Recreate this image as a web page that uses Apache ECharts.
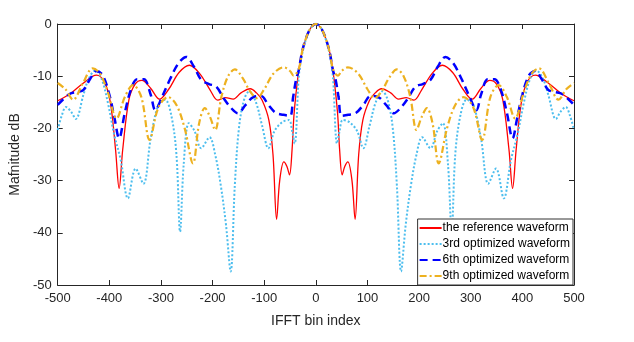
<!DOCTYPE html>
<html>
<head>
<meta charset="utf-8">
<script src="https://cdn.jsdelivr.net/npm/echarts@6/dist/echarts.min.js"></script>
<style>
  html, body { margin: 0; padding: 0; background: #fff; }
  #main { width: 634px; height: 342px; }
</style>
</head>
<body>
<div id="main"></div>
<script>
// IFFT bin index / magnitude in dB
var refX = [-500, -475, -450, -425, -410, -398, -388, -381, -374, -362, -350, -337, -320, -303, -285, -265, -245, -225, -205, -190, -175, -160, -145, -127, -115, -104, -91, -83, -76, -70, -62, -56, -51, -46, -42, -33, -27, -20, -12, -5, 0,
            5, 12, 20, 27, 33, 42, 46, 51, 56, 62, 70, 76, 83, 91, 104, 115, 127, 145, 160, 175, 190, 205, 225, 245, 265, 285, 303, 320, 337, 350, 362, 374, 381, 388, 398, 410, 425, 450, 475, 500];
var refY = [-14.7, -13.3, -11.3, -9.8, -11.0, -15.0, -24.0, -31.5, -24.0, -14.5, -11.5, -10.8, -12.3, -14.4, -12.5, -9.3, -7.9, -9.5, -12.6, -14.6, -14.1, -14.4, -13.2, -12.4, -13.2, -14.6, -18.4, -25.0, -37.4, -30.0, -26.4, -27.3, -28.9, -24.0, -17.0, -8.8, -5.5, -3.0, -1.1, -0.2, 0,
            -0.2, -1.1, -3.0, -5.5, -8.8, -17.0, -24.0, -28.9, -27.3, -26.4, -30.0, -37.4, -25.0, -18.4, -14.6, -13.2, -12.4, -13.2, -14.4, -14.1, -14.6, -12.6, -9.5, -7.9, -9.3, -12.5, -14.4, -12.3, -10.8, -11.5, -14.5, -24.0, -31.5, -24.0, -15.0, -11.0, -9.8, -11.3, -13.3, -14.7];

var opt3X = [-500, -492, -484, -474, -465, -450, -440, -427, -415, -403, -391, -378, -364, -349, -334, -320, -305, -292, -280, -270, -263, -256, -246, -235, -222, -206, -195, -184, -174, -165, -157, -149, -139, -129, -116, -104, -92, -80, -65, -52, -46, -41, -33, -27, -20, -12, -5, 0,
            5, 12, 20, 27, 33, 41, 46, 52, 65, 80, 92, 104, 116, 129, 139, 149, 157, 165, 174, 184, 195, 206, 222, 235, 246, 256, 263, 270, 280, 292, 305, 320, 334, 349, 364, 378, 391, 403, 415, 427, 440, 450, 465, 474, 484, 492, 500];
var opt3Y = [-20.3, -17.5, -15.9, -16.8, -18.2, -13.5, -10.5, -8.9, -10.5, -15.0, -21.0, -26.0, -33.4, -27.7, -30.6, -22.0, -15.5, -14.5, -17.5, -25.0, -39.8, -27.0, -19.0, -20.5, -23.8, -21.7, -25.0, -31.0, -38.5, -47.4, -31.0, -20.0, -14.5, -12.9, -15.0, -19.5, -23.8, -20.5, -18.8, -18.4, -20.5, -22.9, -10.0, -6.0, -3.2, -1.1, -0.2, 0,
            -0.2, -1.1, -3.2, -6.0, -10.0, -22.9, -20.5, -18.4, -18.8, -20.5, -23.8, -19.5, -15.0, -12.9, -14.5, -20.0, -31.0, -47.4, -38.5, -31.0, -25.0, -21.7, -23.8, -20.5, -19.0, -27.0, -39.8, -25.0, -17.5, -14.5, -15.5, -22.0, -30.6, -27.7, -33.4, -26.0, -21.0, -15.0, -10.5, -8.9, -10.5, -13.5, -18.2, -16.8, -15.9, -17.5, -20.3];

var opt6X = [-500, -477, -462, -450, -437, -425, -413, -400, -390, -381, -370, -358, -346, -333, -320, -311, -298, -282, -266, -251, -236, -222, -207, -193, -178, -164, -151, -136, -121, -106, -92, -78, -63, -50, -44, -38, -33, -27, -20, -12, -5, 0,
            5, 12, 20, 27, 33, 38, 44, 50, 63, 78, 92, 106, 121, 136, 151, 164, 178, 193, 207, 222, 236, 251, 266, 282, 298, 311, 320, 333, 346, 358, 370, 381, 390, 400, 413, 425, 437, 450, 462, 477, 500];
var opt6Y = [-15.5, -13.4, -13.0, -12.6, -10.5, -9.0, -9.8, -13.5, -18.0, -21.9, -17.0, -12.5, -10.6, -10.6, -13.5, -16.5, -14.0, -10.5, -7.5, -6.3, -8.2, -10.7, -11.5, -12.0, -14.3, -16.1, -17.1, -15.5, -14.0, -13.8, -15.5, -17.0, -17.4, -17.6, -14.0, -10.5, -8.8, -5.5, -3.0, -1.1, -0.2, 0,
            -0.2, -1.1, -3.0, -5.5, -8.8, -10.5, -14.0, -17.6, -17.4, -17.0, -15.5, -13.8, -14.0, -15.5, -17.1, -16.1, -14.3, -12.0, -11.5, -10.7, -8.2, -6.3, -7.5, -10.5, -14.0, -16.5, -13.5, -10.6, -10.6, -12.5, -17.0, -21.9, -18.0, -13.5, -9.8, -9.0, -10.5, -12.6, -13.0, -13.4, -15.5];

var opt9X = [-500, -485, -470, -452, -432, -418, -403, -386, -370, -354, -338, -322, -305, -286, -270, -254, -238, -226, -215, -205, -195, -183, -170, -157, -142, -128, -114, -100, -82, -62, -50, -43, -33, -27, -20, -12, -5, 0,
            5, 12, 20, 27, 33, 43, 50, 62, 82, 100, 114, 128, 142, 157, 170, 183, 195, 205, 215, 226, 238, 254, 270, 286, 305, 322, 338, 354, 370, 386, 403, 418, 432, 452, 470, 485, 500];
var opt9Y = [-11.3, -12.5, -14.5, -11.5, -8.5, -9.5, -13.0, -18.1, -14.0, -11.7, -14.0, -22.2, -16.0, -14.0, -15.5, -20.0, -26.7, -19.0, -16.1, -17.8, -20.3, -14.0, -10.0, -8.7, -10.3, -12.8, -14.2, -12.5, -9.5, -8.3, -9.0, -9.9, -8.6, -5.5, -3.0, -1.1, -0.2, 0,
            -0.2, -1.1, -3.0, -5.5, -8.6, -9.9, -9.0, -8.3, -9.5, -12.5, -14.2, -12.8, -10.3, -8.7, -10.0, -14.0, -20.3, -17.8, -16.1, -19.0, -26.7, -20.0, -15.5, -14.0, -16.0, -22.2, -14.0, -11.7, -14.0, -18.1, -13.0, -9.5, -8.5, -11.5, -14.5, -12.5, -11.3];

var seriesNames = ['the reference waveform', '3rd optimized waveform', '6th optimized waveform', '9th optimized waveform'];

function pairs(xs, ys) {
  return xs.map(function (x, i) { return [x, ys[i]]; });
}

var chart = echarts.init(document.getElementById('main'), null, { renderer: 'canvas' });

var axisColor = '#262626';
var font = 'Liberation Sans';

function frameAxis(extra) {
  var base = {
    type: 'value',
    axisLine: { show: true, onZero: false, lineStyle: { color: axisColor, width: 1 } },
    axisTick: { inside: true, length: 5, lineStyle: { color: axisColor } },
    axisLabel: { show: false },
    splitLine: { show: false }
  };
  return Object.assign(base, extra);
}

var option = {
  animation: false,
  backgroundColor: '#fff',
  grid: { left: 53, right: 60, top: 24, bottom: 57 },
  legend: {
    data: seriesNames,
    orient: 'vertical',
    right: 61,
    bottom: 57,
    backgroundColor: '#fff',
    borderColor: '#333',
    borderWidth: 1,
    borderRadius: 0,
    padding: [3, 3, 3, 1],
    itemGap: 4,
    itemWidth: 22,
    itemHeight: 10,
    itemStyle: { opacity: 0 },
    textStyle: { fontFamily: font, fontSize: 12, color: '#000', padding: [0, 0, 0, -4] }
  },
  xAxis: [
    frameAxis({
      min: -500, max: 500, interval: 100, position: 'bottom',
      name: 'IFFT bin index', nameLocation: 'middle', nameGap: 29,
      nameTextStyle: { fontFamily: font, fontSize: 14, color: axisColor },
      axisLabel: { show: true, fontFamily: font, fontSize: 13, color: axisColor, margin: 7 }
    }),
    frameAxis({ min: -500, max: 500, interval: 100, position: 'top' })
  ],
  yAxis: [
    frameAxis({
      min: -50, max: 0, interval: 10, position: 'left',
      name: 'Mafnitude dB', nameLocation: 'middle', nameGap: 27, nameRotate: 90,
      nameTextStyle: { fontFamily: font, fontSize: 14, color: axisColor },
      axisLabel: { show: true, fontFamily: font, fontSize: 13, color: axisColor, margin: 6 }
    }),
    frameAxis({ min: -50, max: 0, interval: 10, position: 'right' })
  ],
  series: [{
    name: seriesNames[0], type: 'line', smooth: 0.35, symbol: 'none',
    data: pairs(refX, refY),
    lineStyle: { color: '#ff0000', width: 1.3 },
    itemStyle: { color: '#ff0000' }
  }, {
    name: seriesNames[1], type: 'line', smooth: 0.35, symbol: 'none',
    data: pairs(opt3X, opt3Y),
    lineStyle: { color: '#4dbeee', width: 2, type: [2, 2] },
    itemStyle: { color: '#4dbeee' }
  }, {
    name: seriesNames[2], type: 'line', smooth: 0.35, symbol: 'none',
    data: pairs(opt6X, opt6Y),
    lineStyle: { color: '#0000ff', width: 2.5, type: [8, 5] },
    itemStyle: { color: '#0000ff' }
  }, {
    name: seriesNames[3], type: 'line', smooth: 0.35, symbol: 'none',
    data: pairs(opt9X, opt9Y),
    lineStyle: { color: '#edb120', width: 2.2, type: [7, 3, 2, 3] },
    itemStyle: { color: '#edb120' }
  }]
};

chart.setOption(option);
</script>
</body>
</html>
